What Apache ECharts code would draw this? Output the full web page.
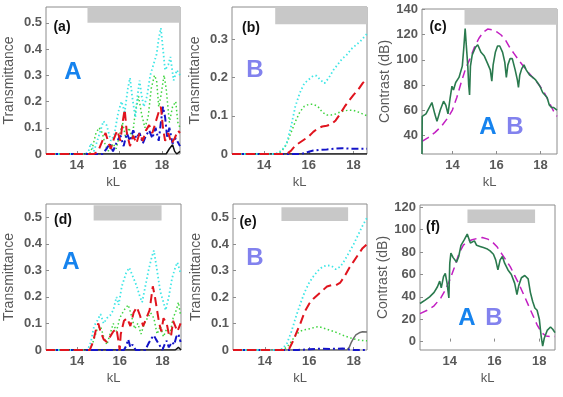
<!DOCTYPE html>
<html lang="en">
<head>
    <meta charset="UTF-8">
    <title>Transmittance / Contrast</title>
    <script src="https://cdn.jsdelivr.net/npm/echarts@6/dist/echarts.min.js"></script>
    <style>
        html, body { margin: 0; padding: 0; background: #fff; }
        #main { width: 563px; height: 397px; }
    </style>
</head>
<body>
<div id="main"></div>
<script>
    // ---- data: [kL, value] ----
    var aCyan = [[12.55,0],[14.4,0],[14.55,0.01],[14.65,0.04],[14.8,0.01],[15.0,0.06],[15.25,0.125],[15.4,0.11],[15.6,0.05],[15.75,0.07],[15.95,0.16],[16.1,0.2],[16.25,0.16],[16.4,0.25],[16.5,0.29],[16.6,0.22],[16.75,0.14],[16.85,0.22],[16.95,0.28],[17.05,0.22],[17.15,0.18],[17.3,0.22],[17.45,0.3],[17.6,0.34],[17.75,0.38],[17.85,0.44],[17.95,0.48],[18.05,0.4],[18.15,0.32],[18.3,0.34],[18.4,0.37],[18.55,0.28],[18.7,0.32],[18.85,0.3]];
    var aGreen = [[12.55,0],[14.6,0],[14.75,0.03],[14.9,0.08],[15.05,0.1],[15.2,0.08],[15.35,0.03],[15.5,0.01],[15.7,0.04],[15.85,0.02],[16.0,0.07],[16.15,0.12],[16.3,0.06],[16.45,0.1],[16.6,0.06],[16.75,0.16],[16.9,0.22],[17.05,0.15],[17.2,0.1],[17.35,0.14],[17.5,0.25],[17.65,0.3],[17.75,0.28],[17.85,0.18],[17.95,0.22],[18.1,0.3],[18.2,0.25],[18.35,0.12],[18.5,0.18],[18.65,0.2],[18.75,0.12],[18.85,0.1]];
    var aRed = [[12.55,0],[14.8,0],[15.0,0.01],[15.2,0.05],[15.35,0.08],[15.5,0.04],[15.6,0.02],[15.75,0.06],[15.9,0.09],[16.05,0.05],[16.15,0.12],[16.25,0.17],[16.35,0.08],[16.5,0.03],[16.65,0.07],[16.8,0.04],[16.95,0.08],[17.1,0.05],[17.25,0.09],[17.4,0.11],[17.55,0.08],[17.7,0.12],[17.85,0.16],[17.95,0.18],[18.05,0.1],[18.15,0.05],[18.3,0.08],[18.45,0.04],[18.6,0.06],[18.75,0.09],[18.85,0.08]];
    var aBlue = [[12.55,0],[15.2,0],[15.4,0.02],[15.55,0.04],[15.7,0.01],[15.9,0.05],[16.05,0.07],[16.2,0.03],[16.35,0.08],[16.5,0.05],[16.65,0.09],[16.8,0.06],[16.95,0.08],[17.1,0.04],[17.25,0.07],[17.4,0.09],[17.55,0.06],[17.7,0.1],[17.85,0.05],[17.95,0.12],[18.05,0.18],[18.15,0.14],[18.25,0.06],[18.35,0.1],[18.5,0.04],[18.65,0.06],[18.85,0.03]];
    var aBlack = [[12.55,0],[18.2,0],[18.35,0.02],[18.5,0.035],[18.6,0.01],[18.7,0],[18.85,0.01]];

    var bCyan = [[12.57,0],[14.4,0],[14.6,0.002],[14.8,0.01],[15.0,0.025],[15.2,0.07],[15.4,0.125],[15.6,0.16],[15.8,0.185],[16.0,0.195],[16.2,0.205],[16.35,0.205],[16.5,0.195],[16.7,0.185],[16.9,0.2],[17.1,0.22],[17.3,0.235],[17.5,0.25],[17.7,0.26],[17.9,0.275],[18.1,0.285],[18.3,0.295],[18.45,0.305],[18.6,0.315]];
    var bGreen = [[12.57,0],[14.6,0],[14.8,0.008],[15.0,0.025],[15.2,0.055],[15.4,0.085],[15.6,0.11],[15.8,0.125],[16.0,0.13],[16.2,0.13],[16.4,0.125],[16.6,0.11],[16.8,0.102],[17.0,0.102],[17.2,0.105],[17.4,0.11],[17.6,0.113],[17.8,0.115],[18.0,0.114],[18.2,0.11],[18.4,0.105],[18.6,0.1]];
    var bRed = [[12.57,0],[15.0,0],[15.2,0.008],[15.4,0.022],[15.6,0.03],[15.8,0.038],[16.0,0.046],[16.2,0.058],[16.4,0.067],[16.6,0.072],[16.8,0.074],[17.0,0.078],[17.2,0.088],[17.4,0.105],[17.6,0.124],[17.8,0.14],[18.0,0.155],[18.2,0.168],[18.4,0.185],[18.6,0.198]];
    var bBlue = [[12.57,0],[15.6,0],[15.8,0.002],[16.0,0.006],[16.2,0.009],[16.5,0.011],[16.8,0.012],[17.2,0.014],[17.5,0.015],[17.8,0.014],[18.2,0.014],[18.6,0.014]];
    var bBlack = [[12.57,0],[18.6,0]];

    var cGreen = [[12.62,25],[12.63,55],[12.8,57],[12.95,62],[13.07,66],[13.2,57],[13.3,51],[13.45,60],[13.6,67],[13.7,64],[13.8,57],[13.9,70],[13.98,79],[14.05,76],[14.15,82],[14.3,86],[14.45,95],[14.52,110],[14.58,125],[14.63,112],[14.7,95],[14.74,80],[14.78,72],[14.82,95],[14.9,104],[15.05,110],[15.15,112],[15.3,106],[15.45,103],[15.6,97],[15.72,92],[15.79,83],[15.85,96],[15.95,106],[16.05,111],[16.15,111],[16.28,106],[16.38,98],[16.45,86],[16.52,96],[16.62,101],[16.72,101],[16.85,92],[16.95,84],[17.0,78],[17.06,88],[17.15,93],[17.25,96],[17.35,92],[17.5,88],[17.65,86],[17.78,84],[17.9,81],[18.0,78],[18.1,74],[18.2,72],[18.3,70],[18.4,64],[18.5,62],[18.6,62],[18.75,60]];
    var cMagenta = [[12.62,35],[12.9,38],[13.2,42],[13.5,47],[13.8,54],[14.0,60],[14.2,70],[14.4,82],[14.6,93],[14.8,101],[15.0,110],[15.2,117],[15.4,122],[15.6,124.5],[15.8,124],[16.0,122.5],[16.2,120],[16.4,116],[16.6,110],[16.8,105],[17.0,100],[17.2,95.5],[17.4,91],[17.6,87],[17.8,83],[18.0,78.5],[18.2,73],[18.4,66],[18.6,59],[18.75,55]];

    var dCyan = [[12.55,0],[14.5,0],[14.65,0.03],[14.8,0.09],[14.95,0.11],[15.1,0.135],[15.25,0.1],[15.4,0.12],[15.55,0.13],[15.7,0.15],[15.85,0.2],[15.95,0.17],[16.1,0.24],[16.3,0.29],[16.45,0.31],[16.6,0.28],[16.8,0.24],[16.95,0.2],[17.05,0.18],[17.2,0.24],[17.35,0.3],[17.5,0.35],[17.6,0.375],[17.75,0.3],[17.9,0.22],[18.05,0.18],[18.15,0.15],[18.3,0.2],[18.45,0.27],[18.6,0.31],[18.7,0.33],[18.85,0.29]];
    var dGreen = [[12.55,0],[14.6,0],[14.8,0.04],[14.95,0.08],[15.1,0.09],[15.25,0.05],[15.4,0.02],[15.55,0.06],[15.7,0.1],[15.85,0.07],[16.0,0.12],[16.2,0.15],[16.4,0.17],[16.55,0.13],[16.7,0.08],[16.85,0.1],[17.0,0.06],[17.15,0.1],[17.3,0.12],[17.45,0.14],[17.6,0.12],[17.75,0.06],[17.9,0.09],[18.05,0.05],[18.2,0.08],[18.35,0.06],[18.5,0.12],[18.65,0.15],[18.75,0.18],[18.85,0.13]];
    var dRed = [[12.55,0],[14.6,0],[14.75,0.03],[14.9,0.08],[15.0,0.1],[15.1,0.07],[15.25,0.04],[15.4,0.03],[15.55,0.05],[15.7,0.07],[15.85,0.08],[15.95,0.03],[16.0,0.0],[16.05,0.06],[16.2,0.11],[16.35,0.12],[16.5,0.09],[16.65,0.14],[16.8,0.162],[16.95,0.13],[17.1,0.09],[17.25,0.12],[17.4,0.15],[17.55,0.24],[17.65,0.2],[17.75,0.15],[17.85,0.1],[17.95,0.07],[18.05,0.12],[18.2,0.1],[18.3,0.06],[18.4,0.05],[18.5,0.11],[18.6,0.09],[18.7,0.07],[18.85,0.1]];
    var dBlue = [[12.55,0],[16.2,0],[16.3,0.015],[16.4,0.04],[16.5,0.01],[16.6,0.02],[16.75,0],[17.2,0],[17.35,0.025],[17.5,0.045],[17.6,0.055],[17.7,0.04],[17.85,0.02],[18.0,0],[18.1,0.02],[18.2,0.035],[18.3,0.01],[18.45,0.03],[18.55,0.02],[18.65,0.05],[18.75,0.06],[18.85,0.03]];
    var dBlack = [[12.55,0],[18.6,0],[18.75,0.01],[18.87,0]];

    var eCyan = [[12.57,0],[14.6,0],[14.8,0.005],[15.0,0.025],[15.2,0.07],[15.4,0.125],[15.6,0.175],[15.8,0.22],[16.0,0.255],[16.2,0.28],[16.4,0.3],[16.6,0.315],[16.8,0.32],[17.0,0.318],[17.2,0.305],[17.4,0.315],[17.6,0.34],[17.8,0.37],[18.0,0.4],[18.2,0.435],[18.4,0.47],[18.6,0.5]];
    var eGreen = [[12.57,0],[14.7,0],[14.9,0.005],[15.1,0.02],[15.3,0.045],[15.5,0.065],[15.7,0.075],[15.9,0.078],[16.1,0.082],[16.3,0.087],[16.45,0.088],[16.6,0.084],[16.8,0.078],[17.0,0.073],[17.2,0.067],[17.4,0.06],[17.6,0.053],[17.8,0.047],[18.0,0.042],[18.2,0.038],[18.4,0.036],[18.6,0.035]];
    var eRed = [[12.57,0],[15.0,0],[15.1,0.005],[15.25,0.03],[15.4,0.06],[15.6,0.1],[15.8,0.145],[16.0,0.175],[16.2,0.195],[16.4,0.21],[16.6,0.225],[16.8,0.24],[17.0,0.245],[17.2,0.245],[17.4,0.255],[17.6,0.28],[17.8,0.31],[18.0,0.335],[18.2,0.36],[18.4,0.385],[18.6,0.4]];
    var eBlue = [[12.57,0],[15.5,0],[16.0,0.003],[16.5,0.005],[17.0,0.004],[17.5,0.006],[17.8,0.002],[18.0,0],[18.6,0]];
    var eGray = [[12.57,0],[17.7,0],[17.8,0.01],[17.9,0.03],[18.0,0.045],[18.1,0.057],[18.25,0.065],[18.4,0.069],[18.6,0.068]];

    var fGreen = [[12.67,34],[12.9,37],[13.1,40],[13.3,44],[13.45,49],[13.55,54],[13.62,48],[13.72,58],[13.8,61],[13.88,52],[13.96,39],[14.0,70],[14.05,79],[14.15,75],[14.3,71],[14.4,76],[14.5,86],[14.65,91],[14.78,96],[14.85,92],[14.92,88],[15.0,89],[15.1,90],[15.2,86],[15.35,85],[15.5,84],[15.65,83],[15.8,81],[15.95,78],[16.05,73],[16.15,64],[16.25,73],[16.35,76],[16.45,70],[16.6,64],[16.75,60],[16.9,52],[17.0,42],[17.08,50],[17.2,57],[17.35,59],[17.5,56],[17.6,44],[17.7,36],[17.8,30],[17.9,28],[18.0,20],[18.08,5],[18.15,-4],[18.22,3],[18.35,10],[18.5,13],[18.6,11],[18.7,8]];
    var fMagenta = [[12.67,25],[13.0,28],[13.3,32],[13.6,39],[13.8,46],[14.0,55],[14.2,66],[14.4,78],[14.6,86],[14.8,89.5],[15.0,91],[15.2,92],[15.45,93],[15.7,91.5],[15.9,89],[16.1,85],[16.3,79],[16.5,73],[16.7,67],[16.9,59],[17.1,51],[17.3,42],[17.5,33],[17.7,24],[17.9,15],[18.1,8],[18.3,5],[18.5,4.5],[18.7,4.5]];

    // tick labels
    var kLTicks = [14, 16, 18];
    var transTicksA = [0, 0.1, 0.2, 0.3, 0.4, 0.5];
    var transTicksB = [0, 0.1, 0.2, 0.3];
    var contrastTicksC = [40, 60, 80, 100, 120, 140];
    var contrastTicksF = [0, 20, 40, 60, 80, 100, 120];

    // gray bars [x1, y1, x2, y2]
    var barA = [14.5, 0.5, 18.85, 0.56];
    var barB = [14.5, 0.34, 18.6, 0.385];
    var barC = [14.55, 128, 18.75, 140.5];
    var barD = [14.78, 0.488, 17.96, 0.545];
    var barE = [14.75, 0.488, 17.75, 0.54];
    var barF = [14.79, 106, 17.81, 118];

    var FONT = 'Liberation Sans, Arial, sans-serif';
    var AX = '#595959';

    var panels = [
        { grid: [46, 7, 134, 147], x: [12.55, 18.85], y: [0, 0.56], yt: transTicksA, name: 'Transmittance', tag: '(a)' },
        { grid: [232, 7, 135, 147], x: [12.57, 18.6], y: [0, 0.385], yt: transTicksB, name: 'Transmittance', tag: '(b)' },
        { grid: [422, 9, 135, 145], x: [12.62, 18.75], y: [25, 140.5], yt: contrastTicksC, name: 'Contrast (dB)', tag: '(c)' },
        { grid: [46, 204, 135, 146], x: [12.55, 18.87], y: [0, 0.55], yt: transTicksA, name: 'Transmittance', tag: '(d)' },
        { grid: [233, 204, 134, 146], x: [12.57, 18.6], y: [0, 0.552], yt: transTicksA, name: 'Transmittance', tag: '(e)' },
        { grid: [420, 205, 135, 145], x: [12.67, 18.7], y: [-7.5, 122], yt: contrastTicksF, name: 'Contrast (dB)', tag: '(f)' }
    ];

    var grids = [], xAxes = [], yAxes = [];
    panels.forEach(function (p) {
        grids.push({ left: p.grid[0], top: p.grid[1], width: p.grid[2], height: p.grid[3],
            show: true, borderColor: '#8c8c8c', borderWidth: 1, backgroundColor: '#fff' });
        xAxes.push({
            type: 'value', gridIndex: grids.length - 1, min: p.x[0], max: p.x[1],
            name: 'kL', nameLocation: 'middle', nameGap: 22,
            nameTextStyle: { color: AX, fontSize: 13, fontFamily: FONT },
            axisLine: { show: false }, splitLine: { show: false },
            axisTick: { inside: true, length: 3, lineStyle: { color: '#8c8c8c' }, customValues: kLTicks },
            axisLabel: { color: AX, fontSize: 13, fontWeight: 'bold', fontFamily: FONT, margin: 5, customValues: kLTicks }
        });
        yAxes.push({
            type: 'value', gridIndex: grids.length - 1, min: p.y[0], max: p.y[1],
            name: p.name, nameLocation: 'middle', nameGap: 30,
            nameTextStyle: { color: AX, fontSize: 14, fontFamily: FONT },
            axisLine: { show: false }, splitLine: { show: false },
            axisTick: { inside: true, length: 3, lineStyle: { color: '#8c8c8c' }, customValues: p.yt },
            axisLabel: { color: AX, fontSize: 13, fontWeight: 'bold', fontFamily: FONT, margin: 4, customValues: p.yt }
        });
    });

    function line(idx, data, color, type, width) {
        return {
            type: 'line', xAxisIndex: idx, yAxisIndex: idx, data: data,
            showSymbol: false, animation: false, z: 3,
            lineStyle: { color: color, type: type, width: width }
        };
    }
    function bar(idx, b) {
        return {
            type: 'line', xAxisIndex: idx, yAxisIndex: idx, data: [], z: 1,
            markArea: { silent: true, itemStyle: { color: '#c8c8c8' },
                data: [[{ coord: [b[0], b[1]] }, { coord: [b[2], b[3]] }]] }
        };
    }

    var CYAN = '#3fe6e6', GREEN = '#3fd43f', RED = '#e0141e', BLUE = '#1414c8', BLACK = '#111';
    var DOT = [1.5, 2.5], DASH = [9, 5], DASHDOT = [7, 3, 2, 3];

    var series = [
        bar(0, barA), bar(1, barB), bar(2, barC), bar(3, barD), bar(4, barE), bar(5, barF),
        line(0, aBlack, BLACK, 'solid', 1.5), line(0, aGreen, GREEN, DOT, 1.5), line(0, aCyan, CYAN, DOT, 1.8),
        line(0, aBlue, BLUE, DASHDOT, 2), line(0, aRed, RED, DASH, 2),
        line(1, bBlack, BLACK, 'solid', 1.5), line(1, bBlue, BLUE, DASHDOT, 2), line(1, bGreen, GREEN, DOT, 1.5),
        line(1, bCyan, CYAN, DOT, 1.8), line(1, bRed, RED, DASH, 2),
        line(2, cMagenta, '#c21fc2', [8, 5], 1.5), line(2, cGreen, '#2a7a4e', 'solid', 1.6),
        line(3, dBlack, BLACK, 'solid', 1.5), line(3, dGreen, GREEN, DOT, 1.5), line(3, dCyan, CYAN, DOT, 1.8),
        line(3, dBlue, BLUE, DASHDOT, 2), line(3, dRed, RED, DASH, 2),
        line(4, eGray, '#6a6a6a', 'solid', 1.5), line(4, eBlue, BLUE, DASHDOT, 2), line(4, eGreen, GREEN, DOT, 1.5),
        line(4, eCyan, CYAN, DOT, 1.8), line(4, eRed, RED, DASH, 2),
        line(5, fMagenta, '#c21fc2', [8, 5], 1.5), line(5, fGreen, '#2a7a4e', 'solid', 1.6)
    ];

    // panel tags and A / B marks
    var texts = [];
    function txt(x, y, s, color, size) {
        texts.push({ type: 'text', x: x, y: y, z: 10,
            style: { text: s, fill: color, font: 'bold ' + size + 'px ' + FONT, textAlign: 'center', textVerticalAlign: 'middle' } });
    }
    var tagPos = [[62, 27], [251, 28], [438, 27], [63, 220], [248, 222], [433, 227]];
    panels.forEach(function (p, i) { txt(tagPos[i][0], tagPos[i][1], p.tag, '#111', 14); });
    var BLUE_A = '#1683ee', LAV_B = '#8282ee';
    txt(73, 72, 'A', BLUE_A, 24);
    txt(255, 70, 'B', LAV_B, 24);
    txt(488, 127, 'A', BLUE_A, 24);
    txt(515, 127, 'B', LAV_B, 24);
    txt(71, 262, 'A', BLUE_A, 24);
    txt(255, 258, 'B', LAV_B, 24);
    txt(467, 318, 'A', BLUE_A, 24);
    txt(494, 318, 'B', LAV_B, 24);

    var chart = echarts.init(document.getElementById('main'));
    chart.setOption({
        backgroundColor: '#fff',
        animation: false,
        grid: grids,
        xAxis: xAxes,
        yAxis: yAxes,
        series: series,
        graphic: texts
    });
</script>
</body>
</html>
